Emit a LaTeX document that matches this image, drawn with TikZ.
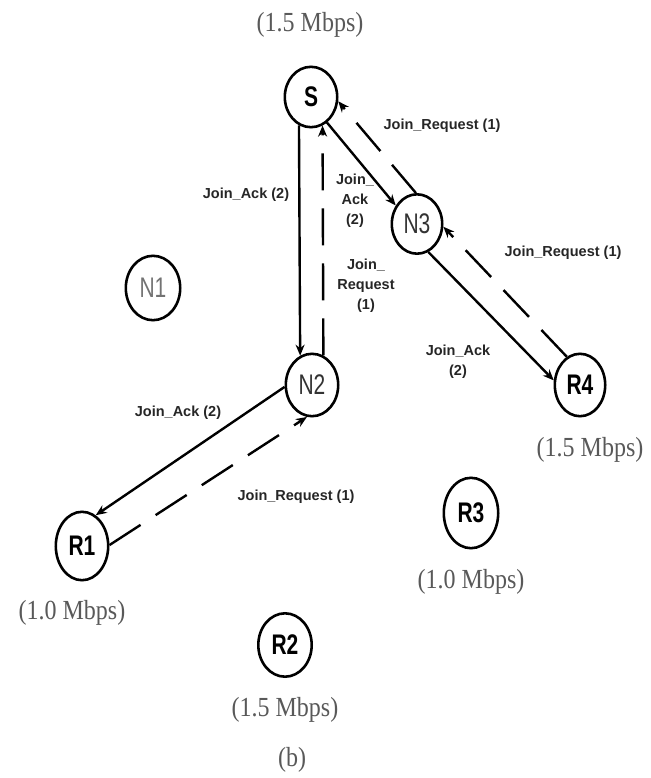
\documentclass[tikz,border=0pt]{standalone}
\usepackage{fontspec}
\usepackage{graphicx}
\setmainfont{Liberation Serif}
\setsansfont{Liberation Sans}
\usetikzlibrary{shapes.geometric,arrows.meta}
\newcommand{\vsc}[1]{\scalebox{1}[1.35]{#1}}
\newcommand{\vsr}[1]{\scalebox{1}[1.15]{#1}}
\tikzset{
  netnode/.style={ellipse, draw, line width=2.6pt, inner sep=0pt,
    minimum width=52pt, minimum height=62pt,
    font=\sffamily\fontsize{21}{24}\selectfont},
  msg/.style={font=\sffamily\bfseries\fontsize{14.5}{20}\selectfont,
    text=black!85, align=center, inner sep=0pt},
  rate/.style={font=\fontsize{24}{28}\selectfont, text=black!65, inner sep=0pt},
  link/.style={line width=2.4pt, -{Stealth[length=11pt,width=9pt]}},
  req/.style={link, dash pattern=on 37pt off 18pt},
}
\begin{document}
\begin{tikzpicture}[x=1pt,y=-1pt]
\fill[white] (0,0) rectangle (650,778);
\useasboundingbox (0,0) rectangle (650,778);

% nodes
\node[netnode, minimum width=52.4pt, minimum height=60.4pt] (S)  at (311,97)  {\vsc{\bfseries S}};
\node[netnode, minimum width=50.4pt, minimum height=59.4pt, text=black!80] (N3) at (417,224) {\vsc{N3}};
\node[netnode, minimum width=54.4pt, minimum height=64.4pt, text=black!55] (N1) at (153,288) {\vsc{N1}};
\node[netnode, minimum width=52.4pt, minimum height=62.4pt, text=black!80] (N2) at (312,385) {\vsc{N2}};
\node[netnode, minimum width=50.4pt, minimum height=62.4pt] (R4) at (580,385) {\vsc{\bfseries R4}};
\node[netnode, minimum width=52.4pt, minimum height=68.4pt] (R1) at (82,546)  {\vsc{\bfseries R1}};
\node[netnode, minimum width=54.4pt, minimum height=70.4pt] (R3) at (471,513) {\vsc{\bfseries R3}};
\node[netnode, minimum width=53.4pt, minimum height=63.4pt] (R2) at (285,645) {\vsc{\bfseries R2}};

% rate labels
\node[rate] (rS)  at (310,25)  {\vsr{(1.5 Mbps)}};
\node[rate] (rR4) at (590,450) {\vsr{(1.5 Mbps)}};
\node[rate] (rR3) at (471,582) {\vsr{(1.0 Mbps)}};
\node[rate] (rR1) at (72,613)  {\vsr{(1.0 Mbps)}};
\node[rate] (rR2) at (285,710) {\vsr{(1.5 Mbps)}};
\node[rate] (cap) at (292,760) {\vsr{(b)}};

% connectors
\draw[link] (S.-113) -- (N2.112);
\draw[req]  (N2.69) -- (S.-68);
\draw[link] (S.-58) -- (N3.139);
\draw[req]  (N3.92) -- (S.-9);
\draw[link] (N3.-68) -- (R4.170);
\draw[req]  (R4.115) -- (N3.-6);
\draw[link] (N2.184) -- (R1.66);
\draw[req]  (R1.2) -- (N2.-99);

% message labels
\node[msg] (m1) at (442,126) {Join\_Request (1)};
\node[msg] (m2) at (246,195) {Join\_Ack (2)};
\node[msg] (m3) at (355,201) {Join\_\\Ack\\(2)};
\node[msg] (m4) at (366,286) {Join\_\\Request\\(1)};
\node[msg] (m5) at (563,253) {Join\_Request (1)};
\node[msg] (m6) at (458,362) {Join\_Ack\\(2)};
\node[msg] (m7) at (178,413) {Join\_Ack (2)};
\node[msg] (m8) at (296,497) {Join\_Request (1)};
\end{tikzpicture}
\end{document}
